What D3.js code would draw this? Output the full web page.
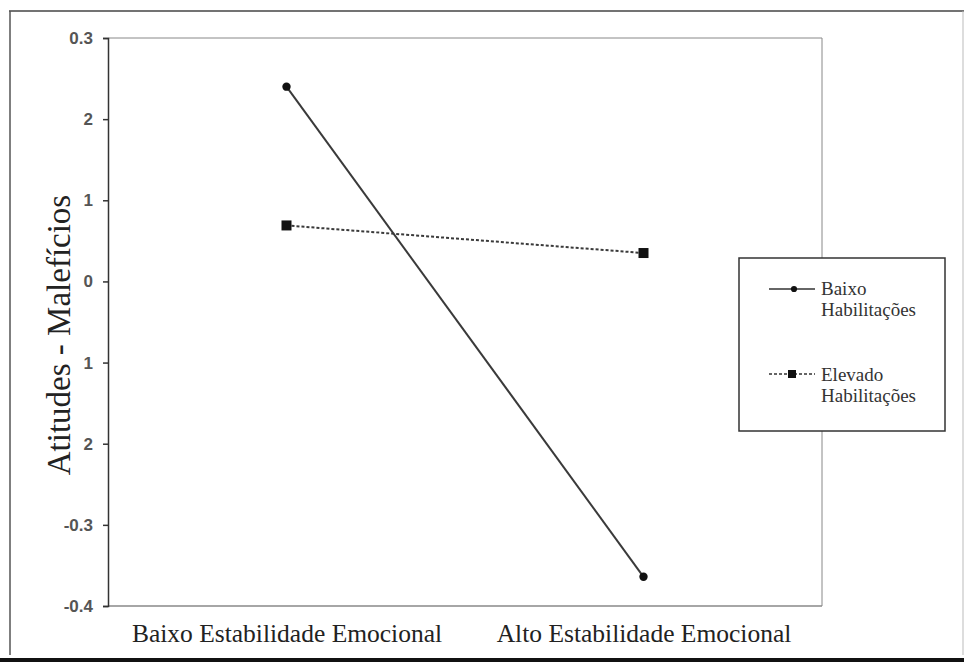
<!DOCTYPE html>
<html><head><meta charset="utf-8">
<script src="https://cdn.jsdelivr.net/npm/d3@7"></script>
<style>body{margin:0;background:#fff}svg{display:block}</style>
</head><body>
<svg id="c" width="964" height="662"></svg>
<script>
const categories = ["Baixo Estabilidade Emocional", "Alto Estabilidade Emocional"];
const seriesNames = [["Baixo", "Habilitações"], ["Elevado", "Habilitações"]];
const baixoValues = [0.24, -0.364];
const elevadoValues = [0.069, 0.035];
const tickValues = [0.3, 0.2, 0.1, 0, -0.1, -0.2, -0.3, -0.4];
const tickLabels = ["0.3", "2", "1", "0", "1", "2", "-0.3", "-0.4"];
const yTitle = "Atitudes - Malefícios";

const SERIF = "'Liberation Serif', 'Times New Roman', serif";
const svg = d3.select("#c");
const L = 108, R = 822, T = 38, B = 606;

// outer frame
svg.append("line").attr("x1",9).attr("x2",964).attr("y1",11).attr("y2",11).attr("stroke","#444").attr("stroke-width",1.5);
svg.append("line").attr("x1",10).attr("x2",10).attr("y1",11).attr("y2",655).attr("stroke","#555").attr("stroke-width",1.5);
svg.append("line").attr("x1",963).attr("x2",963).attr("y1",11).attr("y2",655).attr("stroke","#bbb").attr("stroke-width",1);
svg.append("rect").attr("x",0).attr("y",658).attr("width",964).attr("height",4).attr("fill","#111");

const x = d3.scalePoint().domain(categories).range([L, R]).padding(0.5);
const y = d3.scaleLinear().domain([-0.4, 0.3]).range([B, T]);

// plot frame
svg.append("line").attr("x1",L).attr("x2",R).attr("y1",T).attr("y2",T).attr("stroke","#888");
svg.append("line").attr("x1",R).attr("x2",R).attr("y1",T).attr("y2",B).attr("stroke","#888");
svg.append("line").attr("x1",L).attr("x2",R).attr("y1",B).attr("y2",B).attr("stroke","#888").attr("stroke-width",1.5);

// y axis
const yAxis = d3.axisLeft(y).tickValues(tickValues).tickSize(5).tickPadding(10)
  .tickFormat((d,i) => tickLabels[i]);
const gy = svg.append("g").attr("transform",`translate(${L},0)`).call(yAxis);
gy.attr("font-family", null).attr("font-size", null);
gy.select(".domain").attr("stroke","#333").attr("stroke-width",1.5);
gy.selectAll(".tick line").attr("stroke","#333").attr("stroke-width",1.5);
gy.selectAll(".tick text").attr("fill","#555").style("font-family","'Liberation Sans', Arial, sans-serif")
  .style("font-size","17px").style("font-weight","bold");

// x axis labels
const gx = svg.append("g").attr("transform",`translate(0,${B})`).call(d3.axisBottom(x).tickSize(0).tickPadding(18));
gx.attr("font-family", null).attr("font-size", null);
gx.select(".domain").remove();
gx.selectAll(".tick text").attr("fill","#222").style("font-family",SERIF).style("font-size","25.5px");

// y title
svg.append("text").attr("transform",`translate(70,${(T+B)/2+13}) rotate(-90)`).attr("text-anchor","middle")
  .style("font-family",SERIF).style("font-size","33px").attr("fill","#222").text(yTitle);

// lines
const line = d3.line().x((d,i)=>x(categories[i])).y(d=>y(d));
svg.append("path").datum(baixoValues).attr("d",line).attr("fill","none").attr("stroke","#3a3a3a").attr("stroke-width",2);
svg.append("path").datum(elevadoValues).attr("d",line).attr("fill","none").attr("stroke","#3a3a3a").attr("stroke-width",2).attr("stroke-dasharray","3,2");
svg.selectAll(".dia").data(baixoValues).join("path").attr("transform",(d,i)=>`translate(${x(categories[i])},${y(d)})`)
  .attr("d", d3.symbol(d3.symbolCircle, 55)).attr("fill","#111");
svg.selectAll(".sq").data(elevadoValues).join("rect").attr("x",(d,i)=>x(categories[i])-5).attr("y",d=>y(d)-5)
  .attr("width",10).attr("height",10).attr("fill","#111");

// legend
const lg = svg.append("g");
lg.append("rect").attr("x",739).attr("y",258).attr("width",206).attr("height",173).attr("fill","#fff").attr("stroke","#333").attr("stroke-width",1.5);
const lfont = s => s.style("font-family",SERIF).style("font-size","19px").attr("fill","#333");
lg.append("line").attr("x1",769).attr("x2",815).attr("y1",289).attr("y2",289).attr("stroke","#333").attr("stroke-width",1.5);
lg.append("path").attr("transform","translate(794,289)").attr("d",d3.symbol(d3.symbolCircle,30)).attr("fill","#111");
lg.append("text").attr("x",821).attr("y",295).text(seriesNames[0][0]).call(lfont);
lg.append("text").attr("x",821).attr("y",316).text(seriesNames[0][1]).call(lfont);
lg.append("line").attr("x1",769).attr("x2",815).attr("y1",374).attr("y2",374).attr("stroke","#333").attr("stroke-width",1.5).attr("stroke-dasharray","3,2");
lg.append("rect").attr("x",788).attr("y",370).attr("width",8).attr("height",8).attr("fill","#111");
lg.append("text").attr("x",821).attr("y",381).text(seriesNames[1][0]).call(lfont);
lg.append("text").attr("x",821).attr("y",402).text(seriesNames[1][1]).call(lfont);
</script>
</body></html>
